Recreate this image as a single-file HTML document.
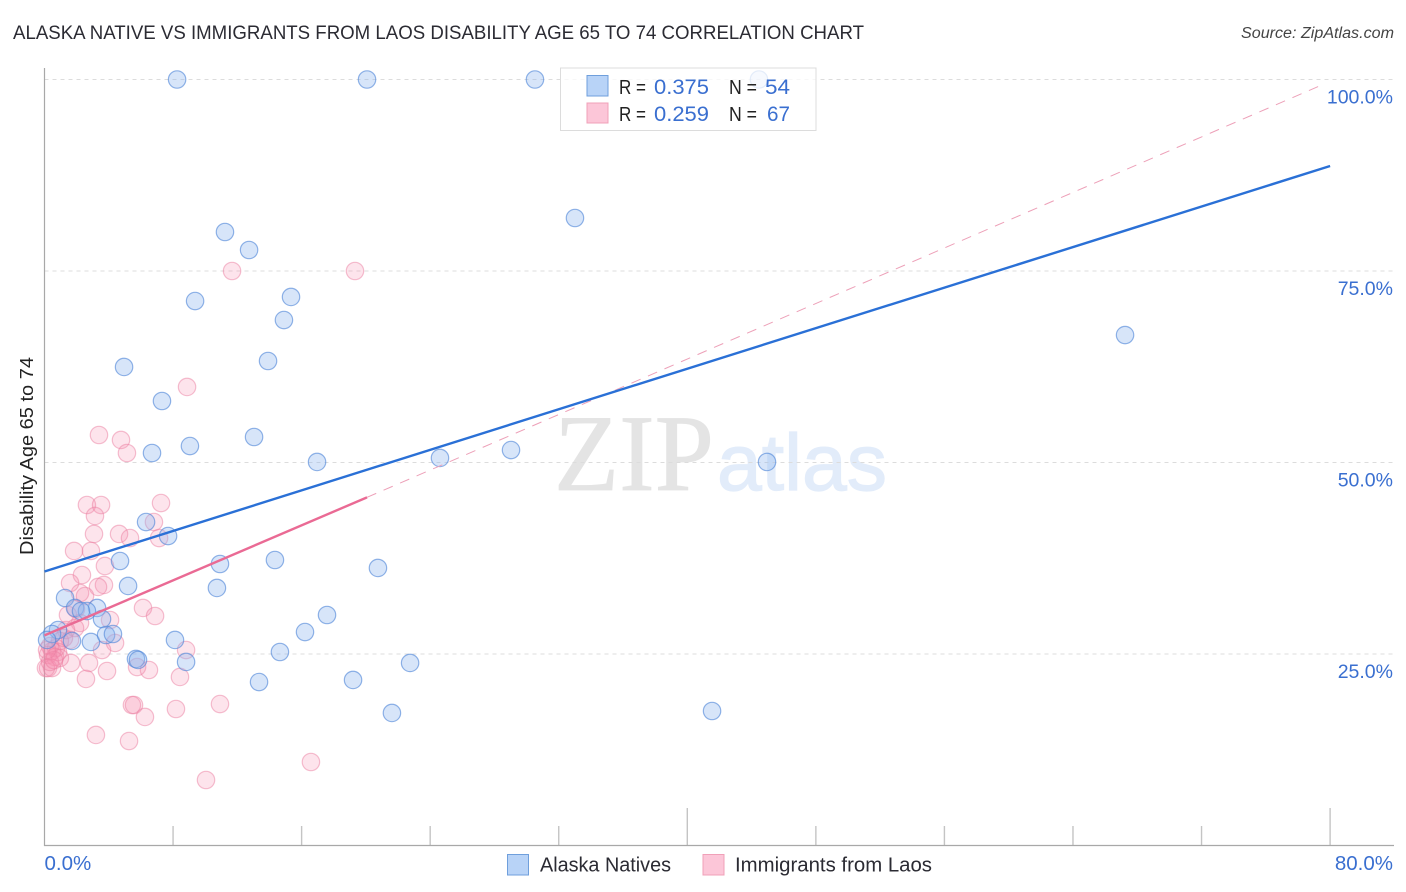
<!DOCTYPE html>
<html lang="en">
<head>
<meta charset="utf-8">
<title>Alaska Native vs Immigrants from Laos Disability Age 65 to 74 Correlation Chart</title>
<style>
html,body{margin:0;padding:0;background:#fff;}
svg{display:block;font-family:"Liberation Sans",sans-serif;}
</style>
</head>
<body>
<svg id="chart" width="1406" height="892" viewBox="0 0 1406 892" xmlns="http://www.w3.org/2000/svg">
  <text x="13" y="39" font-size="19.5" fill="#2b2b33" textLength="851" lengthAdjust="spacingAndGlyphs">ALASKA NATIVE VS IMMIGRANTS FROM LAOS DISABILITY AGE 65 TO 74 CORRELATION CHART</text>
  <text x="1241" y="38" font-size="15.5" font-style="italic" fill="#444" textLength="153" lengthAdjust="spacingAndGlyphs">Source: ZipAtlas.com</text>

  <text x="554" y="490" font-family="'Liberation Serif',serif" font-size="109" fill="#e4e4e4" stroke="#e4e4e4" stroke-width="0.8" textLength="160" lengthAdjust="spacingAndGlyphs">ZIP</text>
  <text x="717" y="490" font-size="80" fill="#e2ecfa" stroke="#e2ecfa" stroke-width="1.2" textLength="170" lengthAdjust="spacingAndGlyphs">atlas</text>

  <g id="grid"></g>
  <g id="ticks"></g>

  <line x1="44.5" y1="68" x2="44.5" y2="846" stroke="#a8a8a8" stroke-width="1.2"/>
  <line x1="44" y1="845.5" x2="1394" y2="845.5" stroke="#a8a8a8" stroke-width="1.2"/>

  <g id="pink-points"></g>
  <g id="blue-points"></g>
  <g id="trends"></g>

  <g id="y-labels"></g>
  <g id="x-labels"></g>

  <text transform="translate(33,456) rotate(-90)" font-size="18.5" fill="#222" text-anchor="middle" textLength="198" lengthAdjust="spacingAndGlyphs">Disability Age 65 to 74</text>

  <g>
    <rect x="560.5" y="68" width="255.5" height="62.5" fill="#fff" fill-opacity="0.76" stroke="#dcdcdc" stroke-width="1"/>
    <rect x="587" y="75.5" width="21" height="20.5" fill="#b8d3f7" stroke="#6f9fdc" stroke-width="1"/>
    <rect x="587" y="103" width="21" height="20" fill="#fcc6d8" stroke="#f0a0b8" stroke-width="1"/>
    <g font-size="20" fill="#222">
      <text x="619" y="94" textLength="27" lengthAdjust="spacingAndGlyphs">R =</text>
      <text x="729" y="94" textLength="28" lengthAdjust="spacingAndGlyphs">N =</text>
      <text x="619" y="121" textLength="27" lengthAdjust="spacingAndGlyphs">R =</text>
      <text x="729" y="121" textLength="28" lengthAdjust="spacingAndGlyphs">N =</text>
    </g>
    <g font-size="21.5" fill="#3a6fd0">
      <text x="654" y="94" textLength="55" lengthAdjust="spacingAndGlyphs">0.375</text>
      <text x="765" y="94" textLength="25" lengthAdjust="spacingAndGlyphs">54</text>
      <text x="654" y="121" textLength="55" lengthAdjust="spacingAndGlyphs">0.259</text>
      <text x="767" y="121" textLength="23" lengthAdjust="spacingAndGlyphs">67</text>
    </g>
  </g>

  <g>
    <rect x="507.5" y="854.5" width="21" height="20.5" fill="#b8d3f7" stroke="#6f9fdc" stroke-width="1"/>
    <text x="540" y="871.5" font-size="20" fill="#2b2b33" textLength="131" lengthAdjust="spacingAndGlyphs">Alaska Natives</text>
    <rect x="703" y="854.5" width="21" height="20.5" fill="#fcc6d8" stroke="#f0a0b8" stroke-width="1"/>
    <text x="735" y="871.5" font-size="20" fill="#2b2b33" textLength="197" lengthAdjust="spacingAndGlyphs">Immigrants from Laos</text>
  </g>
</svg>
<script>
var blueX = [8.25,20.07,30.52,44.46,33.01,11.23,12.73,15.34,9.37,14.90,13.91,4.95,7.31,13.04,9.05,6.69,16.96,24.61,29.03,44.96,67.24,6.32,7.69,4.70,10.92,14.34,20.75,5.20,10.73,1.28,3.27,1.90,2.64,3.58,17.58,16.21,8.12,0.84,0.47,1.71,2.89,3.83,4.26,5.69,5.82,8.81,14.65,22.75,13.35,19.20,21.62,41.54,2.27,0.16];
var blueY = [100,100,100,100,81.92,80.09,77.74,71.61,71.08,68.60,63.25,62.47,58.03,53.33,52.15,51.24,50.07,50.59,51.63,50.07,66.64,42.23,40.40,37.14,36.75,37.27,36.23,33.88,33.62,32.31,31.01,31.01,30.61,29.57,30.09,27.87,26.83,28.13,27.61,26.70,26.57,27.48,27.61,24.35,24.22,23.96,25.26,23.83,21.34,21.61,17.30,17.56,30.61,26.83];
var pinkX = [2.64,3.52,3.14,7.25,6.81,3.08,4.64,5.32,7.13,1.84,2.89,3.76,2.33,1.59,3.70,3.33,2.21,2.52,1.46,6.13,6.88,4.08,2.21,1.90,4.39,3.58,8.81,1.65,2.77,3.89,2.58,5.76,6.50,8.43,5.44,5.57,8.18,10.92,6.25,3.20,5.26,10.05,16.58,11.67,19.32,8.87,3.39,4.76,5.13,1.96,1.34,0.96,1.59,0.72,0.34,0.47,0.84,0.22,0.65,0.96,0.22,0.09,0.47,0.34,0.59,1.21,0.16];
var pinkY = [44.45,44.45,43.02,44.71,42.23,40.67,40.67,40.14,40.14,38.45,38.45,36.49,35.31,34.27,34.01,33.75,32.96,32.57,30.09,31.01,29.96,29.44,29.05,28.39,26.44,25.52,25.52,23.83,23.83,22.78,21.74,23.30,22.91,22.00,18.34,18.34,17.82,18.47,16.78,14.43,13.64,8.55,10.90,75,75,59.86,53.59,52.94,51.24,30.87,28.13,26.70,26.83,25.78,26.04,25.39,25.26,24.87,24.61,24.48,23.17,23.17,23.17,23.96,24.20,27.09,25.52];
var blueTrendX = [0,80];
var blueTrendY = [35.77,88.71];
var pinkTrendX = [0,20.07];
var pinkTrendY = [27.43,45.45];
var pinkDashX = [20.07,79.5];
var pinkDashY = [45.45,99.3];
var yTickValues = [25,50,75,100];
var yTickLabels = ["25.0%","50.0%","75.0%","100.0%"];
var xTickValues = [0,8,16,24,32,40,48,56,64,72,80];
var xEndValues = [0,80];
var xEndLabels = ["0.0%","80.0%"];

var NS = "http://www.w3.org/2000/svg";
function xs(v){ return 44.5 + v * 16.07; }
function ys(v){ return 845.5 - v * 7.66; }
function make(tag, attrs, parent){
  var el = document.createElementNS(NS, tag);
  for (var k in attrs) el.setAttribute(k, attrs[k]);
  parent.appendChild(el);
  return el;
}

var gridG = document.getElementById("grid");
yTickValues.forEach(function(v){
  var l = make("line", {x1:44.5, x2:1394, y1:ys(v), y2:ys(v), stroke:"#dcdcdc", "stroke-width":1, "stroke-dasharray":"4 4"}, gridG);
  
  
});

var ticksG = document.getElementById("ticks");
xTickValues.forEach(function(v, i){
  if (i === 0) return;
  var tall = (v === 40 || v === 80);
  var t = make("line", {x1:xs(v), x2:xs(v), y1:tall ? 808 : 826, y2:845, stroke:"#c4c4c4", "stroke-width":1.4}, ticksG);
  
  
});

var pinkG = document.getElementById("pink-points");
pinkX.forEach(function(v, i){
  var c = make("circle", {cx:xs(v), cy:ys(pinkY[i]), r:8.7, fill:"#f78fb0", "fill-opacity":0.24, stroke:"#ec7fa2", "stroke-opacity":0.5, "stroke-width":1.2}, pinkG);
  
  
});

var blueG = document.getElementById("blue-points");
blueX.forEach(function(v, i){
  var c = make("circle", {cx:xs(v), cy:ys(blueY[i]), r:8.7, fill:"#8fb8ee", "fill-opacity":0.36, stroke:"#4f86d8", "stroke-opacity":0.62, "stroke-width":1.2}, blueG);
  
  
});

var trendG = document.getElementById("trends");
var dashLine = make("line", {x1:xs(pinkDashX[0]), y1:ys(pinkDashY[0]), x2:xs(pinkDashX[1]), y2:ys(pinkDashY[1]), stroke:"#eda0b8", "stroke-width":1, "stroke-dasharray":"10 8"}, trendG);


var blueLine = make("line", {x1:xs(blueTrendX[0]), y1:ys(blueTrendY[0]), x2:xs(blueTrendX[1]), y2:ys(blueTrendY[1]), stroke:"#2a70d6", "stroke-width":2.4}, trendG);


var pinkLine = make("line", {x1:xs(pinkTrendX[0]), y1:ys(pinkTrendY[0]), x2:xs(pinkTrendX[1]), y2:ys(pinkTrendY[1]), stroke:"#ea6a94", "stroke-width":2.4}, trendG);



var yLabG = document.getElementById("y-labels");
yTickValues.forEach(function(v, i){
  var t = make("text", {x:1393, y:ys(v) + 24, "font-size":19.5, fill:"#3a6fd0", "text-anchor":"end"}, yLabG);
  
  
  t.textContent = yTickLabels[i];
});

var xLabG = document.getElementById("x-labels");
xEndValues.forEach(function(v, i){
  var t = make("text", {x: i === 0 ? xs(v) : 1393, y:870, "font-size":20.5, fill:"#3a6fd0", "text-anchor": i === 0 ? "start" : "end"}, xLabG);
  
  
  t.textContent = xEndLabels[i];
});
</script>
</body>
</html>
